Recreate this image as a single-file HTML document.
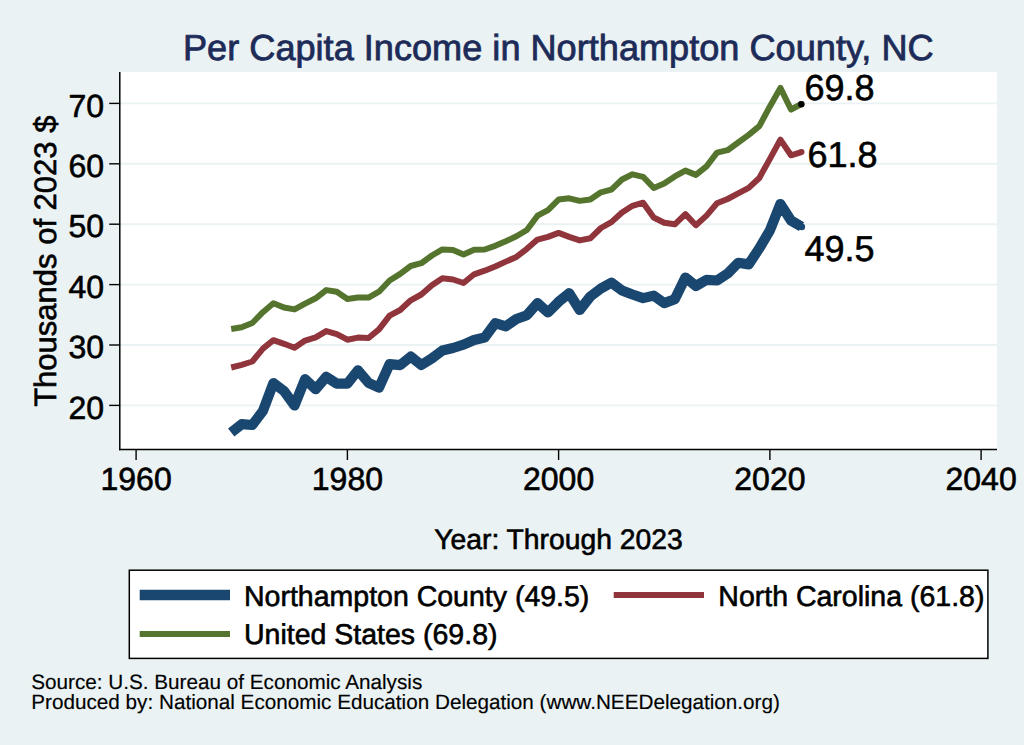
<!DOCTYPE html>
<html><head><meta charset="utf-8"><title>Per Capita Income in Northampton County, NC</title>
<style>
html,body{margin:0;padding:0;background:#eaf2f3;}
body{width:1024px;height:745px;overflow:hidden;}
svg{display:block;}
text{font-family:"Liberation Sans",Arial,Helvetica,sans-serif;fill:#000;stroke:#000;stroke-width:0.6px;text-rendering:geometricPrecision;}
.tl{font-size:32px;}
.yt{font-size:31px;}
.ttl{font-size:36.15px;fill:#1d2b58;stroke:#1d2b58;stroke-width:0.8px;}
.lbl{font-size:36px;}
.leg{font-size:28.5px;}
.xt{font-size:28.3px;}
.note{font-size:20.7px;stroke-width:0.15px;}
</style></head>
<body>
<svg width="1024" height="745" viewBox="0 0 1024 745">
<rect x="0" y="0" width="1024" height="745" fill="#eaf2f3"/>
<text x="558.3" y="59.9" text-anchor="middle" class="ttl">Per Capita Income in Northampton County, NC</text>
<rect x="120" y="72" width="877" height="377.5" fill="#fff"/>
<line x1="120" x2="997" y1="405.4" y2="405.4" stroke="#eaf2f3" stroke-width="1.9"/><line x1="120" x2="997" y1="345.0" y2="345.0" stroke="#eaf2f3" stroke-width="1.9"/><line x1="120" x2="997" y1="284.6" y2="284.6" stroke="#eaf2f3" stroke-width="1.9"/><line x1="120" x2="997" y1="224.2" y2="224.2" stroke="#eaf2f3" stroke-width="1.9"/><line x1="120" x2="997" y1="163.8" y2="163.8" stroke="#eaf2f3" stroke-width="1.9"/><line x1="120" x2="997" y1="103.4" y2="103.4" stroke="#eaf2f3" stroke-width="1.9"/>
<g fill="none" stroke-linejoin="round" stroke-linecap="butt">
<polyline points="231.2,432.5 241.7,424.2 252.3,425.0 262.9,411.0 273.4,383.1 284.0,391.0 294.5,405.5 305.1,379.2 315.7,389.2 326.2,376.9 336.8,383.6 347.4,383.6 357.9,370.3 368.5,382.8 379.0,387.6 389.6,364.2 400.2,365.1 410.7,356.6 421.3,365.0 431.9,358.4 442.4,350.5 453.0,348.0 463.5,344.7 474.1,340.0 484.7,337.5 495.2,323.2 505.8,326.3 516.4,319.0 526.9,315.2 537.5,303.1 548.0,312.5 558.6,301.8 569.2,293.2 579.7,310.0 590.3,296.5 600.9,288.5 611.4,282.6 622.0,290.5 632.5,294.5 643.1,298.1 653.7,295.6 664.2,303.1 674.8,299.2 685.4,277.5 695.9,286.0 706.5,279.8 717.0,280.5 727.6,273.6 738.2,262.8 748.7,264.4 759.3,248.3 769.9,230.4 780.4,204.0 791.0,220.5 801.5,226.6" stroke="#1a476f" stroke-width="10.2"/>
<polyline points="231.2,367.5 241.7,364.8 252.3,361.5 262.9,348.7 273.4,340.2 284.0,343.8 294.5,347.7 305.1,340.6 315.7,337.4 326.2,331.1 336.8,334.1 347.4,339.7 357.9,337.6 368.5,338.0 379.0,329.4 389.6,315.6 400.2,310.0 410.7,300.3 421.3,294.5 431.9,285.2 442.4,278.2 453.0,279.5 463.5,283.0 474.1,274.3 484.7,270.7 495.2,266.5 505.8,261.6 516.4,256.9 526.9,248.8 537.5,239.6 548.0,236.9 558.6,232.9 569.2,236.9 579.7,240.4 590.3,238.3 600.9,228.0 611.4,222.1 622.0,212.5 632.5,205.8 643.1,202.7 653.7,217.5 664.2,222.7 674.8,224.3 685.4,214.1 695.9,225.2 706.5,215.6 717.0,203.3 727.6,199.0 738.2,193.4 748.7,187.9 759.3,178.0 769.9,158.9 780.4,139.6 791.0,155.3 801.5,152.1" stroke="#90353b" stroke-width="6.0"/>
<polyline points="231.2,329.0 241.7,327.3 252.3,323.0 262.9,312.2 273.4,303.2 284.0,307.5 294.5,309.4 305.1,303.6 315.7,298.3 326.2,290.1 336.8,291.8 347.4,298.9 357.9,297.6 368.5,297.6 379.0,291.7 389.6,280.5 400.2,273.9 410.7,266.0 421.3,263.2 431.9,255.5 442.4,249.4 453.0,250.0 463.5,254.6 474.1,249.8 484.7,249.5 495.2,245.8 505.8,241.2 516.4,236.3 526.9,230.0 537.5,215.7 548.0,210.1 558.6,199.6 569.2,198.3 579.7,200.9 590.3,199.5 600.9,192.3 611.4,189.7 622.0,179.5 632.5,174.3 643.1,176.8 653.7,187.9 664.2,183.5 674.8,176.4 685.4,170.6 695.9,174.9 706.5,166.3 717.0,152.7 727.6,150.2 738.2,142.5 748.7,134.8 759.3,126.2 769.9,106.4 780.4,87.9 791.0,109.5 801.5,104.0" stroke="#55752f" stroke-width="6.0"/>
</g>
<circle cx="801.8" cy="226.9" r="3.3" fill="#1a476f"/>
<circle cx="801.5" cy="152.1" r="3.0" fill="#90353b"/>
<circle cx="801.5" cy="104.0" r="3.0" fill="#55752f"/>
<circle cx="801.3" cy="104.2" r="3.2" fill="#000"/>
<text x="804.5" y="99.6" class="lbl">69.8</text>
<text x="807.5" y="167" class="lbl">61.8</text>
<text x="804.5" y="260.6" class="lbl">49.5</text>
<line x1="119.8" x2="119.8" y1="72" y2="450.2" stroke="#000" stroke-width="1.5"/>
<line x1="119.1" x2="997" y1="449.5" y2="449.5" stroke="#000" stroke-width="1.5"/>
<line x1="109.2" x2="120" y1="405.4" y2="405.4" stroke="#000" stroke-width="1.4"/><line x1="109.2" x2="120" y1="345.0" y2="345.0" stroke="#000" stroke-width="1.4"/><line x1="109.2" x2="120" y1="284.6" y2="284.6" stroke="#000" stroke-width="1.4"/><line x1="109.2" x2="120" y1="224.2" y2="224.2" stroke="#000" stroke-width="1.4"/><line x1="109.2" x2="120" y1="163.8" y2="163.8" stroke="#000" stroke-width="1.4"/><line x1="109.2" x2="120" y1="103.4" y2="103.4" stroke="#000" stroke-width="1.4"/>
<text x="104" y="418.6" text-anchor="end" class="tl">20</text><text x="104" y="358.2" text-anchor="end" class="tl">30</text><text x="104" y="297.8" text-anchor="end" class="tl">40</text><text x="104" y="237.4" text-anchor="end" class="tl">50</text><text x="104" y="177.0" text-anchor="end" class="tl">60</text><text x="104" y="116.6" text-anchor="end" class="tl">70</text>
<line x1="136.1" x2="136.1" y1="449.5" y2="460" stroke="#000" stroke-width="1.4"/><line x1="347.4" x2="347.4" y1="449.5" y2="460" stroke="#000" stroke-width="1.4"/><line x1="558.6" x2="558.6" y1="449.5" y2="460" stroke="#000" stroke-width="1.4"/><line x1="769.9" x2="769.9" y1="449.5" y2="460" stroke="#000" stroke-width="1.4"/><line x1="981.1" x2="981.1" y1="449.5" y2="460" stroke="#000" stroke-width="1.4"/>
<text x="136.1" y="490" text-anchor="middle" class="tl">1960</text><text x="347.4" y="490" text-anchor="middle" class="tl">1980</text><text x="558.6" y="490" text-anchor="middle" class="tl">2000</text><text x="769.9" y="490" text-anchor="middle" class="tl">2020</text><text x="981.1" y="490" text-anchor="middle" class="tl">2040</text>
<text transform="translate(55.7,261.2) rotate(-90)" text-anchor="middle" class="yt">Thousands of 2023 $</text>
<text x="558.5" y="549.2" text-anchor="middle" class="xt">Year: Through 2023</text>
<rect x="129.3" y="570.2" width="858.6" height="88.2" fill="#fff" stroke="#000" stroke-width="1.5"/>
<line x1="139.7" x2="230" y1="595" y2="595" stroke="#1a476f" stroke-width="10.4"/>
<line x1="613.7" x2="704" y1="595" y2="595" stroke="#90353b" stroke-width="6"/>
<line x1="139.7" x2="230" y1="634" y2="634" stroke="#55752f" stroke-width="6"/>
<text x="244" y="606.4" class="leg">Northampton County (49.5)</text>
<text x="718.3" y="606.4" class="leg">North Carolina (61.8)</text>
<text x="244" y="643.9" class="leg">United States (69.8)</text>
<text x="31.3" y="689.2" class="note">Source: U.S. Bureau of Economic Analysis</text>
<text x="31.3" y="708.7" class="note">Produced by: National Economic Education Delegation (www.NEEDelegation.org)</text>
</svg>
</body></html>
